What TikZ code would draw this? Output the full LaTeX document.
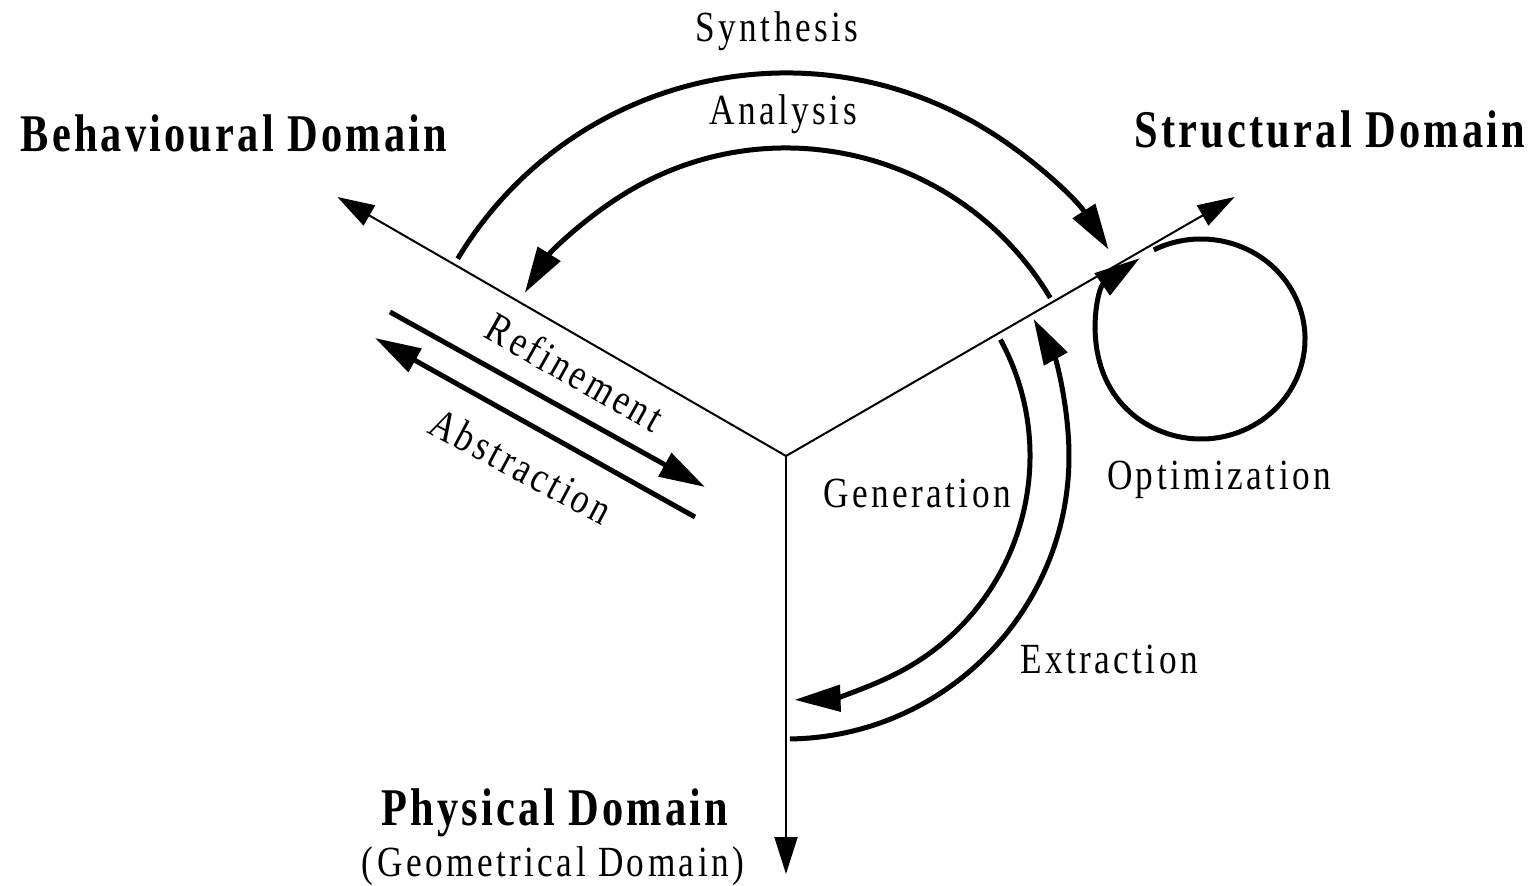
\documentclass[tikz,border=0pt]{standalone}
\usepackage{fontspec}
\usetikzlibrary{arrows.meta,calc}
\newfontfamily\lblfont{Liberation Serif}[FakeStretch=0.82,LetterSpace=8]
\newfontfamily\domfont{Liberation Serif}[FakeStretch=0.8,LetterSpace=6]
\tikzset{
  axis/.style={line width=1pt,-{Triangle[length=18.5pt,width=11.5pt]}},
  flow/.style={line width=2.5pt,-{Triangle[length=23pt,width=13pt]}},
  lbl/.style={font=\lblfont\fontsize{21.5}{24}\selectfont,anchor=base,inner sep=0pt},
  dom/.style={font=\domfont\bfseries\fontsize{26.5}{30}\selectfont,anchor=base,inner sep=0pt},
}
\begin{document}
\begin{tikzpicture}[x=0.5pt,y=0.5pt]
\useasboundingbox (0,0) rectangle (1539,885);

% the three domain axes
\coordinate (O) at (786,429);
\coordinate (beh) at ($(O)+(150:518)$);
\coordinate (str) at ($(O)+(30:518)$);
\coordinate (phy) at (786,11);
\draw[axis] (O) -- (beh);
\draw[axis] (O) -- (str);
\draw[axis] (O) -- (phy);

% synthesis / analysis
\coordinate (synS) at ($(O)+(149:383)$);
\draw[flow] (synS) arc[start angle=149,end angle=32.6,radius=383];
\coordinate (anaS) at ($(O)+(30.9:308)$);
\draw[flow] (anaS) arc[start angle=30.9,end angle=148,radius=308];

% generation / extraction
\coordinate (genS) at ($(O)+(28.5:244)$);
\draw[flow] (genS) arc[start angle=28.5,end angle=-88,radius=244];
\coordinate (extS) at ($(O)+(-89.2:283)$);
\draw[flow] (extS) arc[start angle=-89.2,end angle=29,radius=283];

% refinement / abstraction
\coordinate (refS) at (390,573);
\coordinate (refE) at (705,398);
\draw[flow] (refS) -- (refE);
\coordinate (absS) at (695,368);
\coordinate (absE) at (375,547);
\draw[flow] (absS) -- (absE);

% optimization loop
\coordinate (optC) at (1201,546);
\coordinate (optS) at ($(optC)+(117:104 and 100)$);
\draw[flow] (optS) arc[start angle=117,end angle=-234,x radius=104,y radius=100];

% labels
\node[dom] (lbeh) at (234,733) {Behavioural Domain};
\node[dom] (lstr) at (1330,737) {Structural Domain};
\node[dom] (lphy) at (555,60) {Physical Domain};
\node[lbl] (lgeo) at (553,9) {(Geometrical Domain)};
\node[lbl] (lsyn) at (777,843) {Synthesis};
\node[lbl] (lana) at (783,760) {Analysis};
\node[lbl] (lgen) at (917,377) {Generation};
\node[lbl] (lopt) at (1219,395) {Optimization};
\node[lbl] (lext) at (1109,212) {Extraction};
\node[lbl,anchor=center,rotate=-29.5] (lref) at (575,513) {Refinement};
\node[lbl,anchor=center,rotate=-28] (labs) at (521,419) {Abstraction};
\end{tikzpicture}
\end{document}
